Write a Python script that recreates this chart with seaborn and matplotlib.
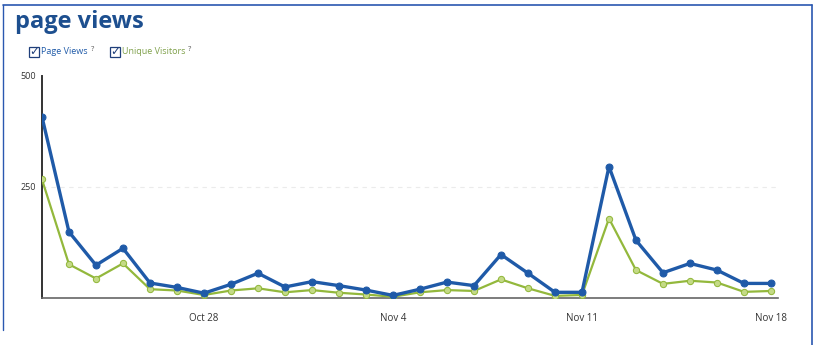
"""
page views chart
"""

import matplotlib
matplotlib.use("Agg")
import matplotlib.pyplot as plt
from matplotlib.patches import Rectangle
import seaborn as sns
import pandas as pd

# Data
dates = pd.date_range("2012-10-22", "2012-11-18", freq="D")
page_views = [408, 149, 74, 112, 34, 24, 11, 31, 56, 25, 37, 28, 18, 6,
              20, 36, 28, 98, 56, 13, 13, 296, 130, 57, 78, 63, 33, 33]
unique_visitors = [267, 76, 44, 78, 20, 17, 7, 17, 22, 13, 18, 12, 8, 3,
                   13, 18, 16, 42, 22, 5, 7, 179, 63, 32, 39, 35, 14, 16]
tick_dates = pd.to_datetime(["2012-10-28", "2012-11-04", "2012-11-11", "2012-11-18"])
tick_labels = ["Oct 28", "Nov 4", "Nov 11", "Nov 18"]
y_ticks = [250, 500]

BLUE = "#1f5aa8"
GREEN = "#93b83c"
TITLE = "#1d4f8f"

sns.set_style("white")
plt.rcParams["font.family"] = ["Open Sans", "DejaVu Sans"]

fig = plt.figure(figsize=(8.23, 3.45), dpi=100)
ax = fig.add_axes([0.051, 0.136, 0.894, 0.644])

df = pd.DataFrame({"date": dates, "pv": page_views, "uv": unique_visitors})

# very faint gridline at 250
ax.axhline(250, color="#ebebeb", lw=0.8, ls=(0, (4, 4)), zorder=0)

sns.lineplot(data=df, x="date", y="uv", ax=ax, color=GREEN, lw=1.6,
             marker="o", markersize=4.5, markeredgecolor=GREEN,
             markerfacecolor="#c4da86", zorder=3)
sns.lineplot(data=df, x="date", y="pv", ax=ax, color=BLUE, lw=2.4,
             marker="o", markersize=5, markeredgecolor=BLUE, zorder=4)

ax.set_xlim(dates[0], dates[-1] + pd.Timedelta(hours=6))
ax.set_ylim(0, 500)
ax.set_xticks(tick_dates)
ax.set_xticklabels(tick_labels, fontsize=7, color="#333333")
ax.set_yticks(y_ticks)
ax.set_yticklabels([str(v) for v in y_ticks], fontsize=6.5, color="#333333")
ax.tick_params(axis="x", length=3, width=0.6, color="#888888", pad=8)
ax.tick_params(axis="y", length=0, pad=4)
ax.set_xlabel("")
ax.set_ylabel("")

sns.despine(ax=ax)
ax.spines["left"].set_color("#333333")
ax.spines["left"].set_linewidth(1.4)
ax.spines["bottom"].set_color("#666666")
ax.spines["bottom"].set_linewidth(1.2)

# title
fig.text(15 / 823, 1 - 22 / 345, "page views", fontsize=17, fontweight="bold",
         color=TITLE, va="center", ha="left")


# legend with checkboxes
def legend_item(x_px, label, color):
    fig.patches.append(Rectangle((x_px / 823, 1 - 57 / 345), 10 / 823, 10 / 345,
                                 transform=fig.transFigure, fill=False,
                                 edgecolor="#1f3f7a", lw=0.9))
    fig.text((x_px + 5) / 823, 1 - 52 / 345, "\u2713", fontsize=8.5,
             fontweight="bold", color="#1f3f7a", ha="center", va="center",
             family=["DejaVu Sans"])
    txt = fig.text((x_px + 12) / 823, 1 - 52 / 345, label, fontsize=6.5,
                   color=color, va="center")
    ax.annotate("?", xy=(1, 0.75), xycoords=txt, xytext=(2, 0),
                textcoords="offset points", fontsize=5.5, color="#555555",
                va="center", annotation_clip=False)


legend_item(29, "Page Views", BLUE)
legend_item(110, "Unique Visitors", "#7fa04a")

# outer frame lines
frame = "#2a58b0"
fig.add_artist(plt.Line2D([3 / 823, 812 / 823], [1 - 5 / 345, 1 - 5 / 345],
                          transform=fig.transFigure, color=frame, lw=1.2))
fig.add_artist(plt.Line2D([812 / 823, 812 / 823], [0, 1 - 5 / 345],
                          transform=fig.transFigure, color=frame, lw=1.2))
fig.add_artist(plt.Line2D([3 / 823, 3 / 823], [1 - 330 / 345, 1 - 5 / 345],
                          transform=fig.transFigure, color=frame, lw=1.0))

fig.savefig("out.png", dpi=100)
